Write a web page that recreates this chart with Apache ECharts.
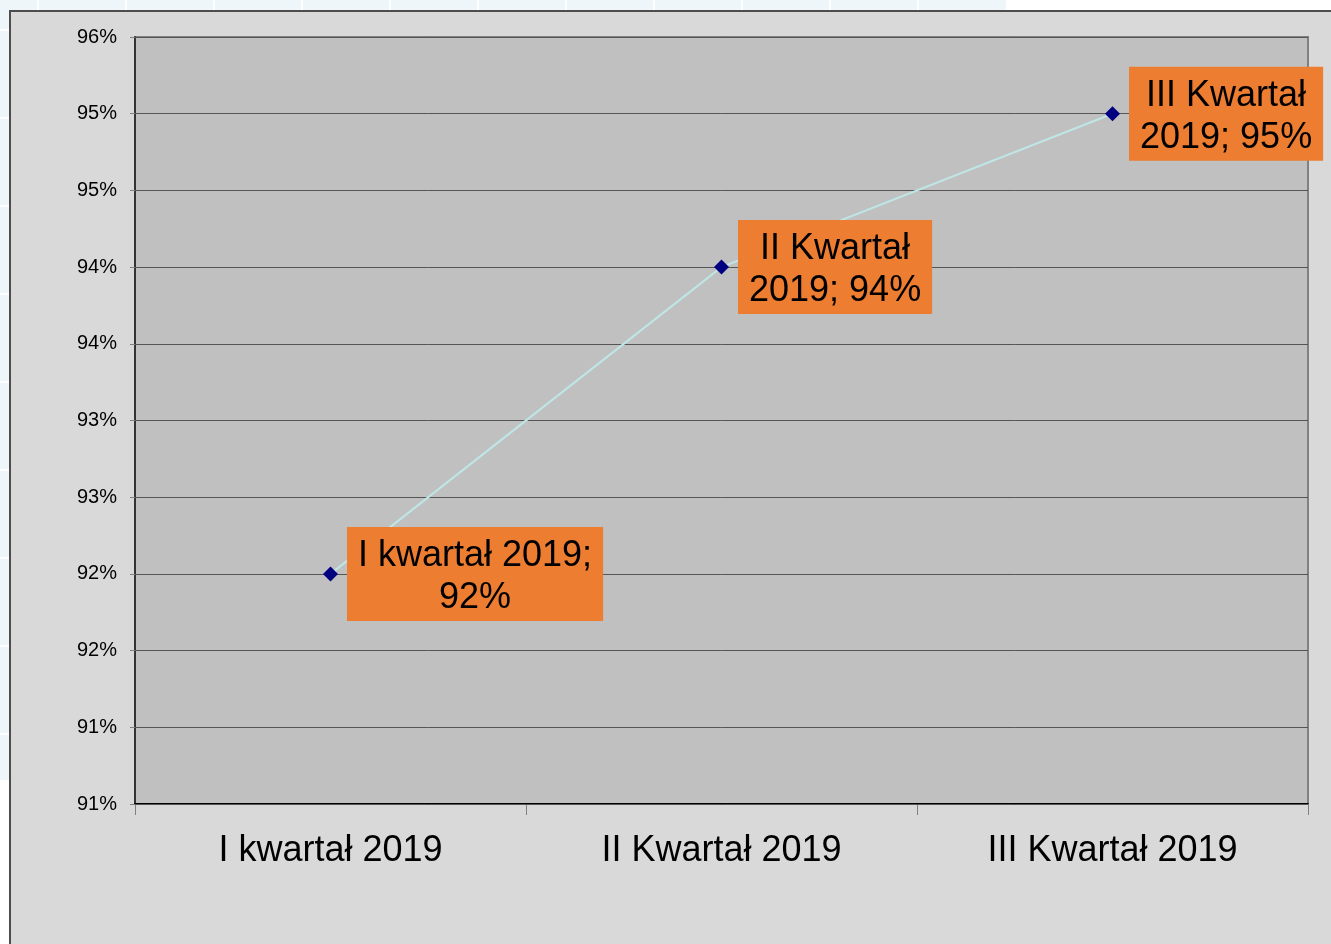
<!DOCTYPE html>
<html>
<head>
<meta charset="utf-8">
<script src="https://cdn.jsdelivr.net/npm/echarts@6/dist/echarts.min.js"></script>
<style>
  html, body { margin: 0; padding: 0; background: #ffffff; }
  #chart { width: 1331px; height: 944px; }
</style>
</head>
<body>
<div id="chart"></div>
<script>
// data
const quarters = ['I kwartał 2019', 'II Kwartał 2019', 'III Kwartał 2019'];
const shares = [92.25, 94.25, 95.25];
// how many words go on the first line of each data label
const labelFirstLine = [3, 2, 2];
// y axis ticks (labels are rounded to whole percent, like the original)
const yTicks = [90.75, 91.25, 91.75, 92.25, 92.75, 93.25, 93.75, 94.25, 94.75, 95.25, 95.75];

const chart = echarts.init(document.getElementById('chart'));

// slide background tiles + chart frame
const bg = [
  { type: 'rect', z: -20, shape: { x: 0, y: 0, width: 1006, height: 11 }, style: { fill: '#eff6fa' } },
  { type: 'rect', z: -20, shape: { x: 0, y: 0, width: 10, height: 780 }, style: { fill: '#eff6fa' } }
];
for (let x = 38; x < 1006; x += 88) {
  bg.push({ type: 'line', z: -19, shape: { x1: x, y1: 0, x2: x, y2: 11 }, style: { stroke: '#ffffff', lineWidth: 2 } });
}
for (let y = 30; y < 780; y += 88) {
  bg.push({ type: 'line', z: -19, shape: { x1: 0, y1: y, x2: 10, y2: y }, style: { stroke: '#ffffff', lineWidth: 2 } });
}
bg.push({
  type: 'rect', z: -10,
  shape: { x: 10, y: 11, width: 1340, height: 950 },
  style: { fill: '#d9d9d9', stroke: '#4d4d4d', lineWidth: 2 }
});

const option = {
  animation: false,
  textStyle: { fontFamily: 'Liberation Sans, Arial, sans-serif' },
  graphic: { elements: bg },
  grid: {
    left: 135, top: 37, right: 23, bottom: 140,
    show: true,
    backgroundColor: '#c0c0c0',
    borderColor: '#808080',
    borderWidth: 2
  },
  xAxis: {
    type: 'category',
    data: quarters,
    boundaryGap: true,
    axisLine: { lineStyle: { color: '#000000', width: 2 } },
    axisTick: { show: true, length: 11, lineStyle: { color: '#808080', width: 1 } },
    axisLabel: { color: '#000000', fontSize: 36, margin: 29 },
    splitLine: { show: false }
  },
  yAxis: {
    type: 'value',
    min: 90.75,
    max: 95.75,
    axisLine: { show: true, lineStyle: { color: '#333333', width: 2 } },
    axisTick: { show: true, length: 5, customValues: yTicks, lineStyle: { color: '#808080' } },
    axisLabel: {
      customValues: yTicks,
      color: '#000000',
      fontSize: 20,
      margin: 18,
      formatter: v => Math.round(v) + '%'
    },
    splitLine: { show: false }
  },
  series: [{
    type: 'line',
    data: shares,
    symbol: 'diamond',
    symbolSize: 15,
    itemStyle: { color: '#000080' },
    lineStyle: { color: '#bfe6e6', width: 2 },
    z: 5,
    label: {
      show: true,
      position: 'right',
      distance: 9,
      backgroundColor: '#ed7d31',
      padding: [8, 11, 2, 11],
      color: '#000000',
      fontSize: 36,
      lineHeight: 42,
      formatter: p => {
        const words = (p.name + '; ' + Math.round(p.value) + '%').split(' ');
        const n = labelFirstLine[p.dataIndex];
        return '{c|' + words.slice(0, n).join(' ') + '}\n{c|' + words.slice(n).join(' ') + '}';
      },
      rich: {
        c: { align: 'center', fontSize: 36, lineHeight: 42, color: '#000000' }
      }
    },
    markLine: {
      silent: true,
      symbol: 'none',
      z: 1,
      label: { show: false },
      lineStyle: { color: '#555555', width: 1, type: 'solid' },
      data: yTicks.map(v => ({ yAxis: v }))
    }
  }]
};

chart.setOption(option);
</script>
</body>
</html>
